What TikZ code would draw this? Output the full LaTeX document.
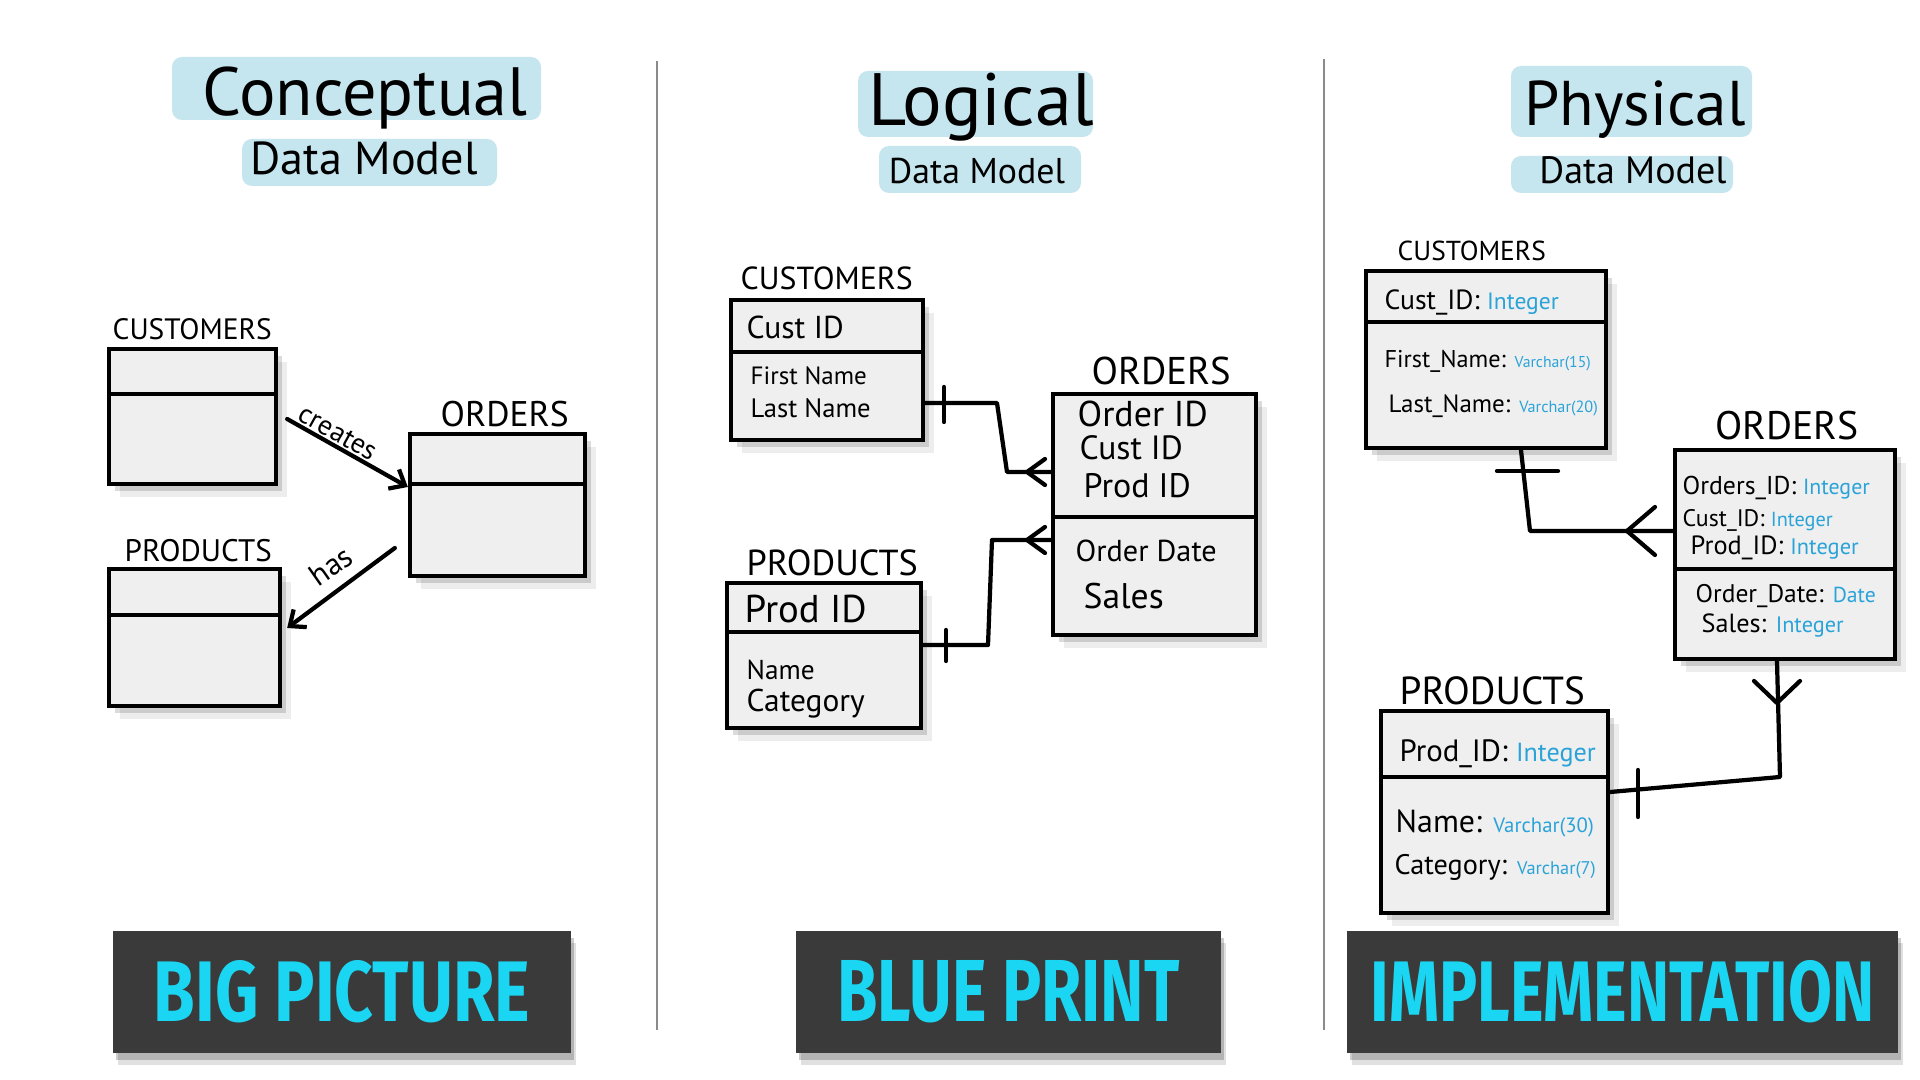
\documentclass[tikz,border=0pt]{standalone}
\usepackage{fontspec}
\usepackage{graphicx}
\setmainfont{PT Sans}
\newfontfamily\labfont{Fira Sans}
\usetikzlibrary{arrows.meta,shadows,calc}
\definecolor{hl}{HTML}{C6E6EF}
\definecolor{typeblue}{HTML}{2AA3D8}
\definecolor{darkbox}{HTML}{3A3A3A}
\definecolor{cyanlab}{HTML}{1BD6F2}
\definecolor{boxfill}{HTML}{EFEFEF}
\definecolor{divgray}{HTML}{8A8A8A}
\newcommand\fitw[2]{\resizebox{#1cm}{!}{#2}}
\newcommand\fitwh[3]{\resizebox{#1cm}{#2cm}{#3}}
\newcommand\tyA[1]{{\color{typeblue}\fontsize{8.5}{10}\selectfont #1}}
\newcommand\tyB[1]{{\color{typeblue}\fontsize{6.5}{8}\selectfont #1}}
\begin{document}
\begin{tikzpicture}[x=0.01cm,y=-0.01cm,
  ebox/.style={draw=black, line width=1.2pt, fill=boxfill, inner sep=0pt,
    drop shadow={shadow xshift=0.11cm, shadow yshift=-0.13cm, opacity=0.07, fill=black},
    drop shadow={shadow xshift=0.06cm, shadow yshift=-0.07cm, opacity=0.14, fill=black}},
  txt/.style={anchor=base west, inner sep=0pt},
  ttl/.style={anchor=base, inner sep=0pt},
  conn/.style={line width=1.2pt, line join=round, line cap=round},
  sep/.style={line width=1.1pt},
  band/.style={fill=hl, rounded corners=0.1cm},
  badge/.style={fill=darkbox, inner sep=0pt,
    drop shadow={shadow xshift=0.05cm, shadow yshift=-0.12cm, opacity=0.12, fill=black},
    drop shadow={shadow xshift=0.03cm, shadow yshift=-0.07cm, opacity=0.2, fill=black}},
  arr/.style={conn, -{Straight Barb[length=0.13cm,width=0.22cm,line width=1.2pt]}},
]
\fill[white] (0,0) rectangle (1920,1080);
\useasboundingbox (0,0) rectangle (1920,1080);

% column dividers
\draw[divgray, line width=0.7pt] (657,61) -- (657,1030);
\draw[divgray, line width=0.7pt] (1324,59) -- (1324,1030);

% ---------------- titles ----------------
\fill[band] (172,57) rectangle (541,120);
\fill[band] (242,139) rectangle (497,186);
\node[ttl] (t1) at (365,116) {\fitw{3.25}{Conceptual}};
\node[ttl] (t1s) at (364,175) {\fitw{2.27}{Data Model}};

\fill[band] (858,71) rectangle (1093,137);
\fill[band] (879,146) rectangle (1081,193);
\node[ttl] (t2) at (981,126) {\fitw{2.25}{Logical}};
\node[ttl] (t2s) at (977,184) {\fitw{1.76}{Data Model}};

\fill[band] (1511,66) rectangle (1752,137);
\fill[band] (1511,156) rectangle (1733,193);
\node[ttl] (t3) at (1635,126) {\fitw{2.21}{Physical}};
\node[ttl] (t3s) at (1633,184) {\fitw{1.87}{Data Model}};

% ---------------- conceptual ----------------
\node[ebox, minimum width=1.67cm, minimum height=1.35cm] (ccust) at (192.5,416.5) {};
\draw[sep] (109,394) -- (276,394);
\node[txt] (ccustl) at (112,340) {\fitw{1.59}{CUSTOMERS}};

\node[ebox, minimum width=1.75cm, minimum height=1.42cm] (cord) at (497.5,505) {};
\draw[sep] (410,484) -- (585,484);
\node[txt] (cordl) at (440,427) {\fitw{1.28}{ORDERS}};

\node[ebox, minimum width=1.71cm, minimum height=1.37cm] (cprod) at (194.5,637.5) {};
\draw[sep] (109,615) -- (280,615);
\node[txt] (cprodl) at (124,562) {\fitw{1.47}{PRODUCTS}};

\draw[arr] ($(ccust.east)+(9,2.5)$) -- ($(cord.west)+(0,-18)$);
\node[inner sep=0pt, rotate=-29] (lcreates) at (338,433) {\fitw{0.85}{creates}};
\draw[arr] ($(cord.west)+(-13,43)$) -- ($(cprod.east)+(5,-9.5)$);
\node[inner sep=0pt, rotate=35] (lhas) at (331,566) {\fitw{0.45}{has}};

% ---------------- logical ----------------
\node[ebox, minimum width=1.92cm, minimum height=1.40cm] (lcust) at (827,370) {};
\draw[sep] (731,352) -- (923,352);
\node[txt] (lcustl) at (740,290) {\fitw{1.72}{CUSTOMERS}};
\node[txt] (lc1) at (746,339) {\fitw{0.97}{Cust ID}};
\node[txt] (lc2) at (750,385) {\fitw{1.16}{First Name}};
\node[txt] (lc3) at (750,418) {\fitw{1.20}{Last Name}};

\node[ebox, minimum width=2.03cm, minimum height=2.41cm] (lord) at (1154.5,514.5) {};
\draw[sep] (1053,517) -- (1256,517);
\node[txt] (lordl) at (1091,385) {\fitw{1.39}{ORDERS}};
\node[txt] (lo1) at (1077,427) {\fitw{1.30}{Order ID}};
\node[txt] (lo2) at (1079,460) {\fitw{1.03}{Cust ID}};
\node[txt] (lo3) at (1083,498) {\fitw{1.07}{Prod ID}};
\node[txt] (lo4) at (1075,562) {\fitw{1.41}{Order Date}};
\node[txt] (lo5) at (1083,609) {\fitw{0.80}{Sales}};

\node[ebox, minimum width=1.94cm, minimum height=1.45cm] (lprod) at (824,655.5) {};
\draw[sep] (727,632) -- (921,632);
\node[txt] (lprodl) at (746,576) {\fitw{1.71}{PRODUCTS}};
\node[txt] (lp1) at (744,623) {\fitw{1.22}{Prod ID}};
\node[txt] (lp2) at (746,680) {\fitw{0.68}{Name}};
\node[txt] (lp3) at (746,712) {\fitw{1.18}{Category}};

\draw[conn] ($(lcust.east)+(0,33)$) -- (997,403) -- (1007,472) -- ($(lord.west)+(0,-42.5)$);
\draw[conn] (944,387) -- (944,422);
\draw[conn] (1045,459) -- (1027,472) -- (1045,485);

\draw[conn] ($(lprod.east)+(0,-10.5)$) -- (988,645) -- (992,540) -- ($(lord.west)+(0,25.5)$);
\draw[conn] (946,630) -- (946,661);
\draw[conn] (1045,527) -- (1027,540) -- (1045,553);

% ---------------- physical ----------------
\node[ebox, minimum width=2.40cm, minimum height=1.77cm] (pcust) at (1486,359.5) {};
\draw[sep] (1366,322) -- (1606,322);
\node[txt] (pcustl) at (1397,261) {\fitw{1.48}{CUSTOMERS}};
\node[txt] (pc1) at (1384,310) {\fitw{1.74}{Cust\_ID: \tyA{Integer}}};
\node[txt] (pc2) at (1384,368) {\fitw{2.06}{First\_Name: \tyB{Varchar(15)}}};
\node[txt] (pc3) at (1388,413) {\fitw{2.09}{Last\_Name: \tyB{Varchar(20)}}};

\node[ebox, minimum width=2.20cm, minimum height=2.09cm] (pord) at (1785,554.5) {};
\draw[sep] (1675,569) -- (1895,569);
\node[txt] (pordl) at (1715,440) {\fitw{1.43}{ORDERS}};
\node[txt] (po1) at (1682,495) {\fitw{1.87}{Orders\_ID: \tyA{Integer}}};
\node[txt] (po2) at (1682,527) {\fitw{1.50}{Cust\_ID: \tyA{Integer}}};
\node[txt] (po3) at (1690,555) {\fitw{1.68}{Prod\_ID: \tyA{Integer}}};
\node[txt] (po4) at (1695,603) {\fitw{1.80}{Order\_Date: \tyA{Date}}};
\node[txt] (po5) at (1701,633) {\fitw{1.42}{Sales: \tyA{Integer}}};

\node[ebox, minimum width=2.27cm, minimum height=2.02cm] (pprod) at (1494.5,812) {};
\draw[sep] (1381,777) -- (1608,777);
\node[txt] (pprodl) at (1399,705) {\fitw{1.85}{PRODUCTS}};
\node[txt] (pp1) at (1399,762) {\fitw{1.96}{Prod\_ID: \tyA{Integer}}};
\node[txt] (pp2) at (1395,833) {\fitw{1.98}{Name: \tyB{Varchar(30)}}};
\node[txt] (pp3) at (1394,875) {\fitw{2.01}{Category: \tyB{Varchar(7)}}};

\draw[conn] ($(pcust.south)+(35,0)$) -- (1530,531) -- ($(pord.west)+(0,-23.5)$);
\draw[conn] (1497,471) -- (1558,471);
\draw[conn] (1655,507) -- (1627,531) -- (1655,555);

\draw[conn] ($(pord.south)+(-8,0)$) -- (1780,777) -- ($(pprod.east)+(0,-20)$);
\draw[conn] (1754,681) -- (1777,703) -- (1800,681);
\draw[conn] (1638,770) -- (1638,817);

% ---------------- badges ----------------
\node[badge, minimum width=4.58cm, minimum height=1.22cm] (b1) at (342,992)
  {\color{cyanlab}\fitwh{3.76}{0.61}{\labfont\bfseries BIG PICTURE}};
\node[badge, minimum width=4.25cm, minimum height=1.22cm] (b2) at (1008.5,992)
  {\color{cyanlab}\fitwh{3.42}{0.61}{\labfont\bfseries BLUE PRINT}};
\node[badge, minimum width=5.51cm, minimum height=1.22cm] (b3) at (1622.5,992)
  {\color{cyanlab}\fitwh{5.03}{0.61}{\labfont\bfseries IMPLEMENTATION}};
\end{tikzpicture}
\end{document}
